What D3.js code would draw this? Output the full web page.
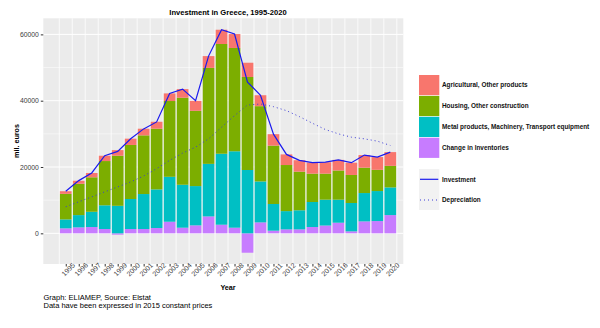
<!DOCTYPE html>
<html>
<head>
<meta charset="utf-8">
<script src="https://cdnjs.cloudflare.com/ajax/libs/d3/7.8.5/d3.min.js"></script>
<style>
body { margin: 0; background: #fff; }
text { font-family: "Liberation Sans", Arial, sans-serif; }
</style>
</head>
<body>
<div id="chart"></div>
<script>
// values in mil. euros
var years = [1995, 1996, 1997, 1998, 1999, 2000, 2001, 2002, 2003, 2004, 2005, 2006, 2007,
	2008, 2009, 2010, 2011, 2012, 2013, 2014, 2015, 2016, 2017, 2018, 2019, 2020];

var inventories = [1500, 1800, 1900, 1300, -400, 1300, 1300, 1600, 3500, 1700, 2400, 5100, 2600,
	1700, -5850, 3300, 800, 1200, 1200, 1900, 2350, 3200, 600, 3600, 3700, 5500];
var metal = [2700, 3700, 4600, 7150, 8300, 9050, 10550, 11650, 13550, 12950, 11850, 15850, 21400,
	23050, 19100, 12350, 8050, 5500, 5750, 7550, 7800, 6950, 8550, 8550, 9050, 8350];
var housing = [7700, 9450, 10400, 13350, 15100, 16300, 17700, 18300, 22850, 26250, 22700, 28950, 33100,
	31150, 28050, 22700, 17600, 13900, 11650, 8550, 7850, 8800, 8450, 7650, 6400, 6500];
var agricultural = [800, 900, 1300, 1600, 1700, 1900, 2000, 2100, 2300, 2600, 3000, 3550, 4300,
	4200, 4300, 3300, 3450, 3200, 3450, 3350, 3450, 3200, 3700, 3800, 3850, 4150];

var investment = [12700, 15900, 18200, 23400, 24700, 28500, 31500, 33600, 42200, 43500, 40000, 53450, 61400,
	60100, 45600, 41650, 29900, 23800, 22000, 21350, 21450, 22150, 21300, 23600, 23000, 24500];
var depreciation = [8000, 9500, 11000, 12500, 14000, 15500, 17300, 19500, 22000, 24200, 26000, 28500, 32000,
	35500, 38700, 39000, 38200, 37000, 35200, 33200, 31300, 30000, 29000, 28500, 27800, 26500];

var seriesNames = ["Agricultural, Other products", "Housing, Other construction",
	"Metal products, Machinery, Transport equipment", "Change in Inventories"];
var lineNames = ["Investment", "Depreciation"];

var yTicks = [0, 20000, 40000, 60000];
var yMinor = [10000, 30000, 50000];

var colors = {agri: "#F8766D", housing: "#7CAE00", metal: "#00BFC4", inv: "#C77CFF"};

var svg = d3.select("#chart").append("svg")
	.attr("width", 600)
	.attr("height", 328)
	.style("background", "#fff");

var x = d3.scaleLinear().domain([1993.27, 2021.0]).range([43.3, 403.3]);
var y = d3.scaleLinear().domain([-9250, 64850]).range([264, 18.3]);

// panel
svg.append("rect")
	.attr("x", x.range()[0])
	.attr("y", y.range()[1])
	.attr("width", x.range()[1] - x.range()[0])
	.attr("height", y.range()[0] - y.range()[1])
	.attr("fill", "#EBEBEB");

svg.selectAll(".minor")
	.data(yMinor)
	.enter().append("line")
	.attr("x1", x.range()[0]).attr("x2", x.range()[1])
	.attr("y1", y).attr("y2", y)
	.attr("stroke", "#fff").attr("stroke-width", 0.5);

svg.selectAll(".major")
	.data(yTicks)
	.enter().append("line")
	.attr("x1", x.range()[0]).attr("x2", x.range()[1])
	.attr("y1", y).attr("y2", y)
	.attr("stroke", "#fff").attr("stroke-width", 1);

svg.selectAll(".vgrid")
	.data(years.map(function(d) { return d - 0.5; }).concat([2020.5]))
	.enter().append("line")
	.attr("x1", x).attr("x2", x)
	.attr("y1", y.range()[0]).attr("y2", y.range()[1])
	.attr("stroke", "#fff").attr("stroke-width", 0.8);

// stacked bars
var rows = years.map(function(yr, i) {
	return {year: yr, inv: inventories[i], metal: metal[i], housing: housing[i], agri: agricultural[i]};
});

var stacked = d3.stack()
	.keys(["inv", "metal", "housing", "agri"])
	.offset(d3.stackOffsetDiverging)(rows);

svg.selectAll(".layer")
	.data(stacked)
	.enter().append("g")
	.attr("fill", function(d) { return colors[d.key]; })
	.selectAll("rect")
	.data(function(d) { return d; })
	.enter().append("rect")
	.attr("x", function(d) { return x(d.data.year - 0.45); })
	.attr("width", function(d) { return x(d.data.year + 0.45) - x(d.data.year - 0.45); })
	.attr("y", function(d) { return y(Math.max(d[0], d[1])); })
	.attr("height", function(d) { return Math.abs(y(d[0]) - y(d[1])); });

// lines
var line = d3.line()
	.x(function(d, i) { return x(years[i]); })
	.y(function(d) { return y(d); });

svg.append("path")
	.attr("d", line(depreciation))
	.attr("fill", "none")
	.attr("stroke", "#3b3bd6")
	.attr("stroke-width", 1)
	.attr("stroke-dasharray", "1,3");

svg.append("path")
	.attr("d", line(investment))
	.attr("fill", "none")
	.attr("stroke", "#1a1aee")
	.attr("stroke-width", 1.2);

// axes
var yAxis = svg.append("g")
	.attr("transform", "translate(" + x.range()[0] + ",0)")
	.call(d3.axisLeft(y).tickValues(yTicks).tickSize(2.5).tickPadding(2).tickFormat(d3.format("d")));

var xAxis = svg.append("g")
	.attr("transform", "translate(0," + y.range()[0] + ")")
	.call(d3.axisBottom(x).tickValues(years).tickSize(2.5).tickFormat(d3.format("d")));

[yAxis, xAxis].forEach(function(ax) {
	ax.select(".domain").remove();
	ax.selectAll("line").attr("stroke", "#333");
	ax.selectAll("text").attr("fill", "#3a3a3a").style("font-size", "6.8px");
});

xAxis.selectAll("text")
	.attr("y", 0)
	.attr("dy", "0.35em")
	.attr("text-anchor", "middle")
	.style("font-size", "7px")
	.attr("transform", "translate(2,5.5) rotate(-45)");

// titles
svg.append("text")
	.attr("x", 228).attr("y", 15)
	.attr("text-anchor", "middle")
	.style("font-size", "7.6px").style("font-weight", "bold")
	.text("Investment in Greece, 1995-2020");

svg.append("text")
	.attr("transform", "translate(19,141) rotate(-90)")
	.attr("text-anchor", "middle")
	.style("font-size", "7.2px").style("font-weight", "bold")
	.text("mil. euros");

svg.append("text")
	.attr("x", 228).attr("y", 290)
	.attr("text-anchor", "middle")
	.style("font-size", "7.2px").style("font-weight", "bold")
	.text("Year");

svg.append("text")
	.attr("x", 43.5).attr("y", 299.5)
	.style("font-size", "7.5px")
	.text("Graph: ELIAMEP, Source: Elstat");

svg.append("text")
	.attr("x", 43.5).attr("y", 307.5)
	.style("font-size", "7.5px")
	.text("Data have been expressed in 2015 constant prices");

// legend
var legendColors = [colors.agri, colors.housing, colors.metal, colors.inv];
var legend = svg.append("g").attr("transform", "translate(419,75)");

legend.selectAll("rect")
	.data(seriesNames)
	.enter().append("rect")
	.attr("x", 0)
	.attr("y", function(d, i) { return i * 20.9; })
	.attr("width", 20.3)
	.attr("height", 20.2)
	.attr("fill", function(d, i) { return legendColors[i]; });

legend.selectAll("text")
	.data(seriesNames)
	.enter().append("text")
	.attr("x", 23)
	.attr("y", function(d, i) { return i * 20.9 + 10.2; })
	.attr("dy", "0.35em")
	.style("font-size", "6.4px").style("font-weight", "bold")
	.attr("fill", "#111")
	.text(function(d) { return d; });

var lineLegend = svg.append("g").attr("transform", "translate(419,169)");

lineLegend.append("rect")
	.attr("width", 20.3).attr("height", 41)
	.attr("fill", "#F2F2F2");

lineLegend.selectAll("line")
	.data(lineNames)
	.enter().append("line")
	.attr("x1", 1).attr("x2", 19.3)
	.attr("y1", function(d, i) { return 10.3 + i * 20.7; })
	.attr("y2", function(d, i) { return 10.3 + i * 20.7; })
	.attr("stroke", function(d, i) { return i ? "#3b3bd6" : "#1a1aee"; })
	.attr("stroke-width", 1.2)
	.attr("stroke-dasharray", function(d, i) { return i ? "1,3" : null; });

lineLegend.selectAll("text")
	.data(lineNames)
	.enter().append("text")
	.attr("x", 23)
	.attr("y", function(d, i) { return 10.3 + i * 20.7; })
	.attr("dy", "0.35em")
	.style("font-size", "6.4px").style("font-weight", "bold")
	.attr("fill", "#111")
	.text(function(d) { return d; });
</script>
</body>
</html>
